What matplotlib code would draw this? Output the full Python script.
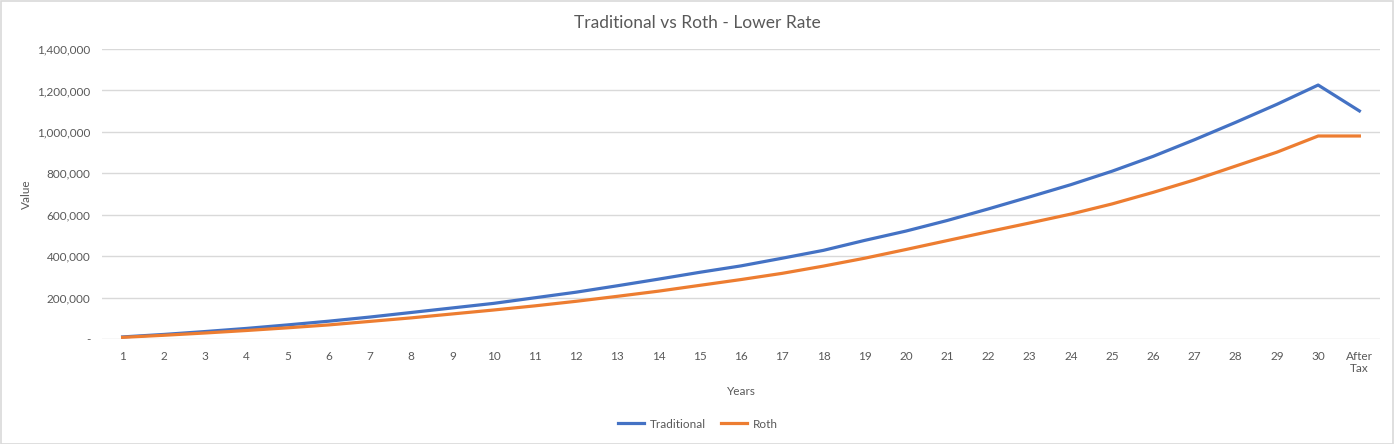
import matplotlib
matplotlib.use("Agg")
import matplotlib.pyplot as plt
from matplotlib.ticker import FuncFormatter
from matplotlib.patches import Rectangle

# values
years = [str(i) for i in range(1, 31)] + ["After\nTax"]
traditional = [10000, 22000, 36000, 51000, 68000, 86000, 106000, 128000, 150000, 172000,
               199000, 226000, 257000, 289000, 322000, 353000, 390000, 428000, 476000, 521000,
               572000, 628000, 686000, 745000, 810000, 882000, 962000, 1046000, 1133000, 1226000,
               1101000]
roth = [8000, 18000, 29000, 41000, 54000, 68000, 85000, 102000, 121000, 140000,
        160000, 182000, 206000, 231000, 259000, 287000, 317000, 352000, 390000, 432000,
        475000, 518000, 560000, 603000, 652000, 708000, 768000, 835000, 902000, 980000,
        980000]
y_ticks = [0, 200000, 400000, 600000, 800000, 1000000, 1200000, 1400000]

TEXT = "#595959"
GRID = "#D9D9D9"

plt.rcParams['font.family'] = ['Lato', 'DejaVu Sans']

fig = plt.figure(figsize=(13.95, 4.44), dpi=100)
fig.patches.append(Rectangle((0.0005, 0.001), 0.998, 0.997, transform=fig.transFigure,
                             fill=False, edgecolor=GRID, linewidth=1.2))

ax = fig.add_axes([102 / 1395, 1 - 339 / 444, (1380 - 102) / 1395, (339 - 49) / 444])
x = list(range(len(years)))
ax.plot(x, traditional, color="#4472C4", linewidth=2.3, label="Traditional")
ax.plot(x, roth, color="#ED7D31", linewidth=2.3, label="Roth")

ax.set_xlim(-0.5, len(years) - 0.5)
ax.set_ylim(0, 1400000)
ax.set_xticks(x)
ax.set_xticklabels(years, va="top", linespacing=1.1)
ax.set_yticks(y_ticks)
ax.yaxis.set_major_formatter(FuncFormatter(lambda v, p: "-" if v == 0 else f"{v:,.0f}"))
ax.tick_params(axis="both", length=0, labelsize=8.5, labelcolor=TEXT)
ax.tick_params(axis="x", pad=9)
ax.tick_params(axis="y", pad=8.5)
ax.grid(axis="y", color=GRID, linewidth=1)
ax.set_axisbelow(True)
for s in ax.spines.values():
    s.set_visible(False)

ax.set_xlabel("Years", fontsize=8.5, color=TEXT)
ax.xaxis.set_label_coords(0.5, -0.162)
ax.set_ylabel("Value", fontsize=8.5, color=TEXT)
ax.yaxis.set_label_coords(-0.0545, 0.5)

fig.text(0.5, 1 - 23 / 444, "Traditional vs Roth - Lower Rate", ha="center", va="center",
         fontsize=12.5, color=TEXT)

fig.legend(loc="center", bbox_to_anchor=(698 / 1395, 1 - 424 / 444), ncol=2, frameon=False,
           fontsize=8.5, labelcolor=TEXT, handlelength=2.2, handletextpad=0.5,
           columnspacing=1.2)

fig.savefig("out.png", dpi=100)
